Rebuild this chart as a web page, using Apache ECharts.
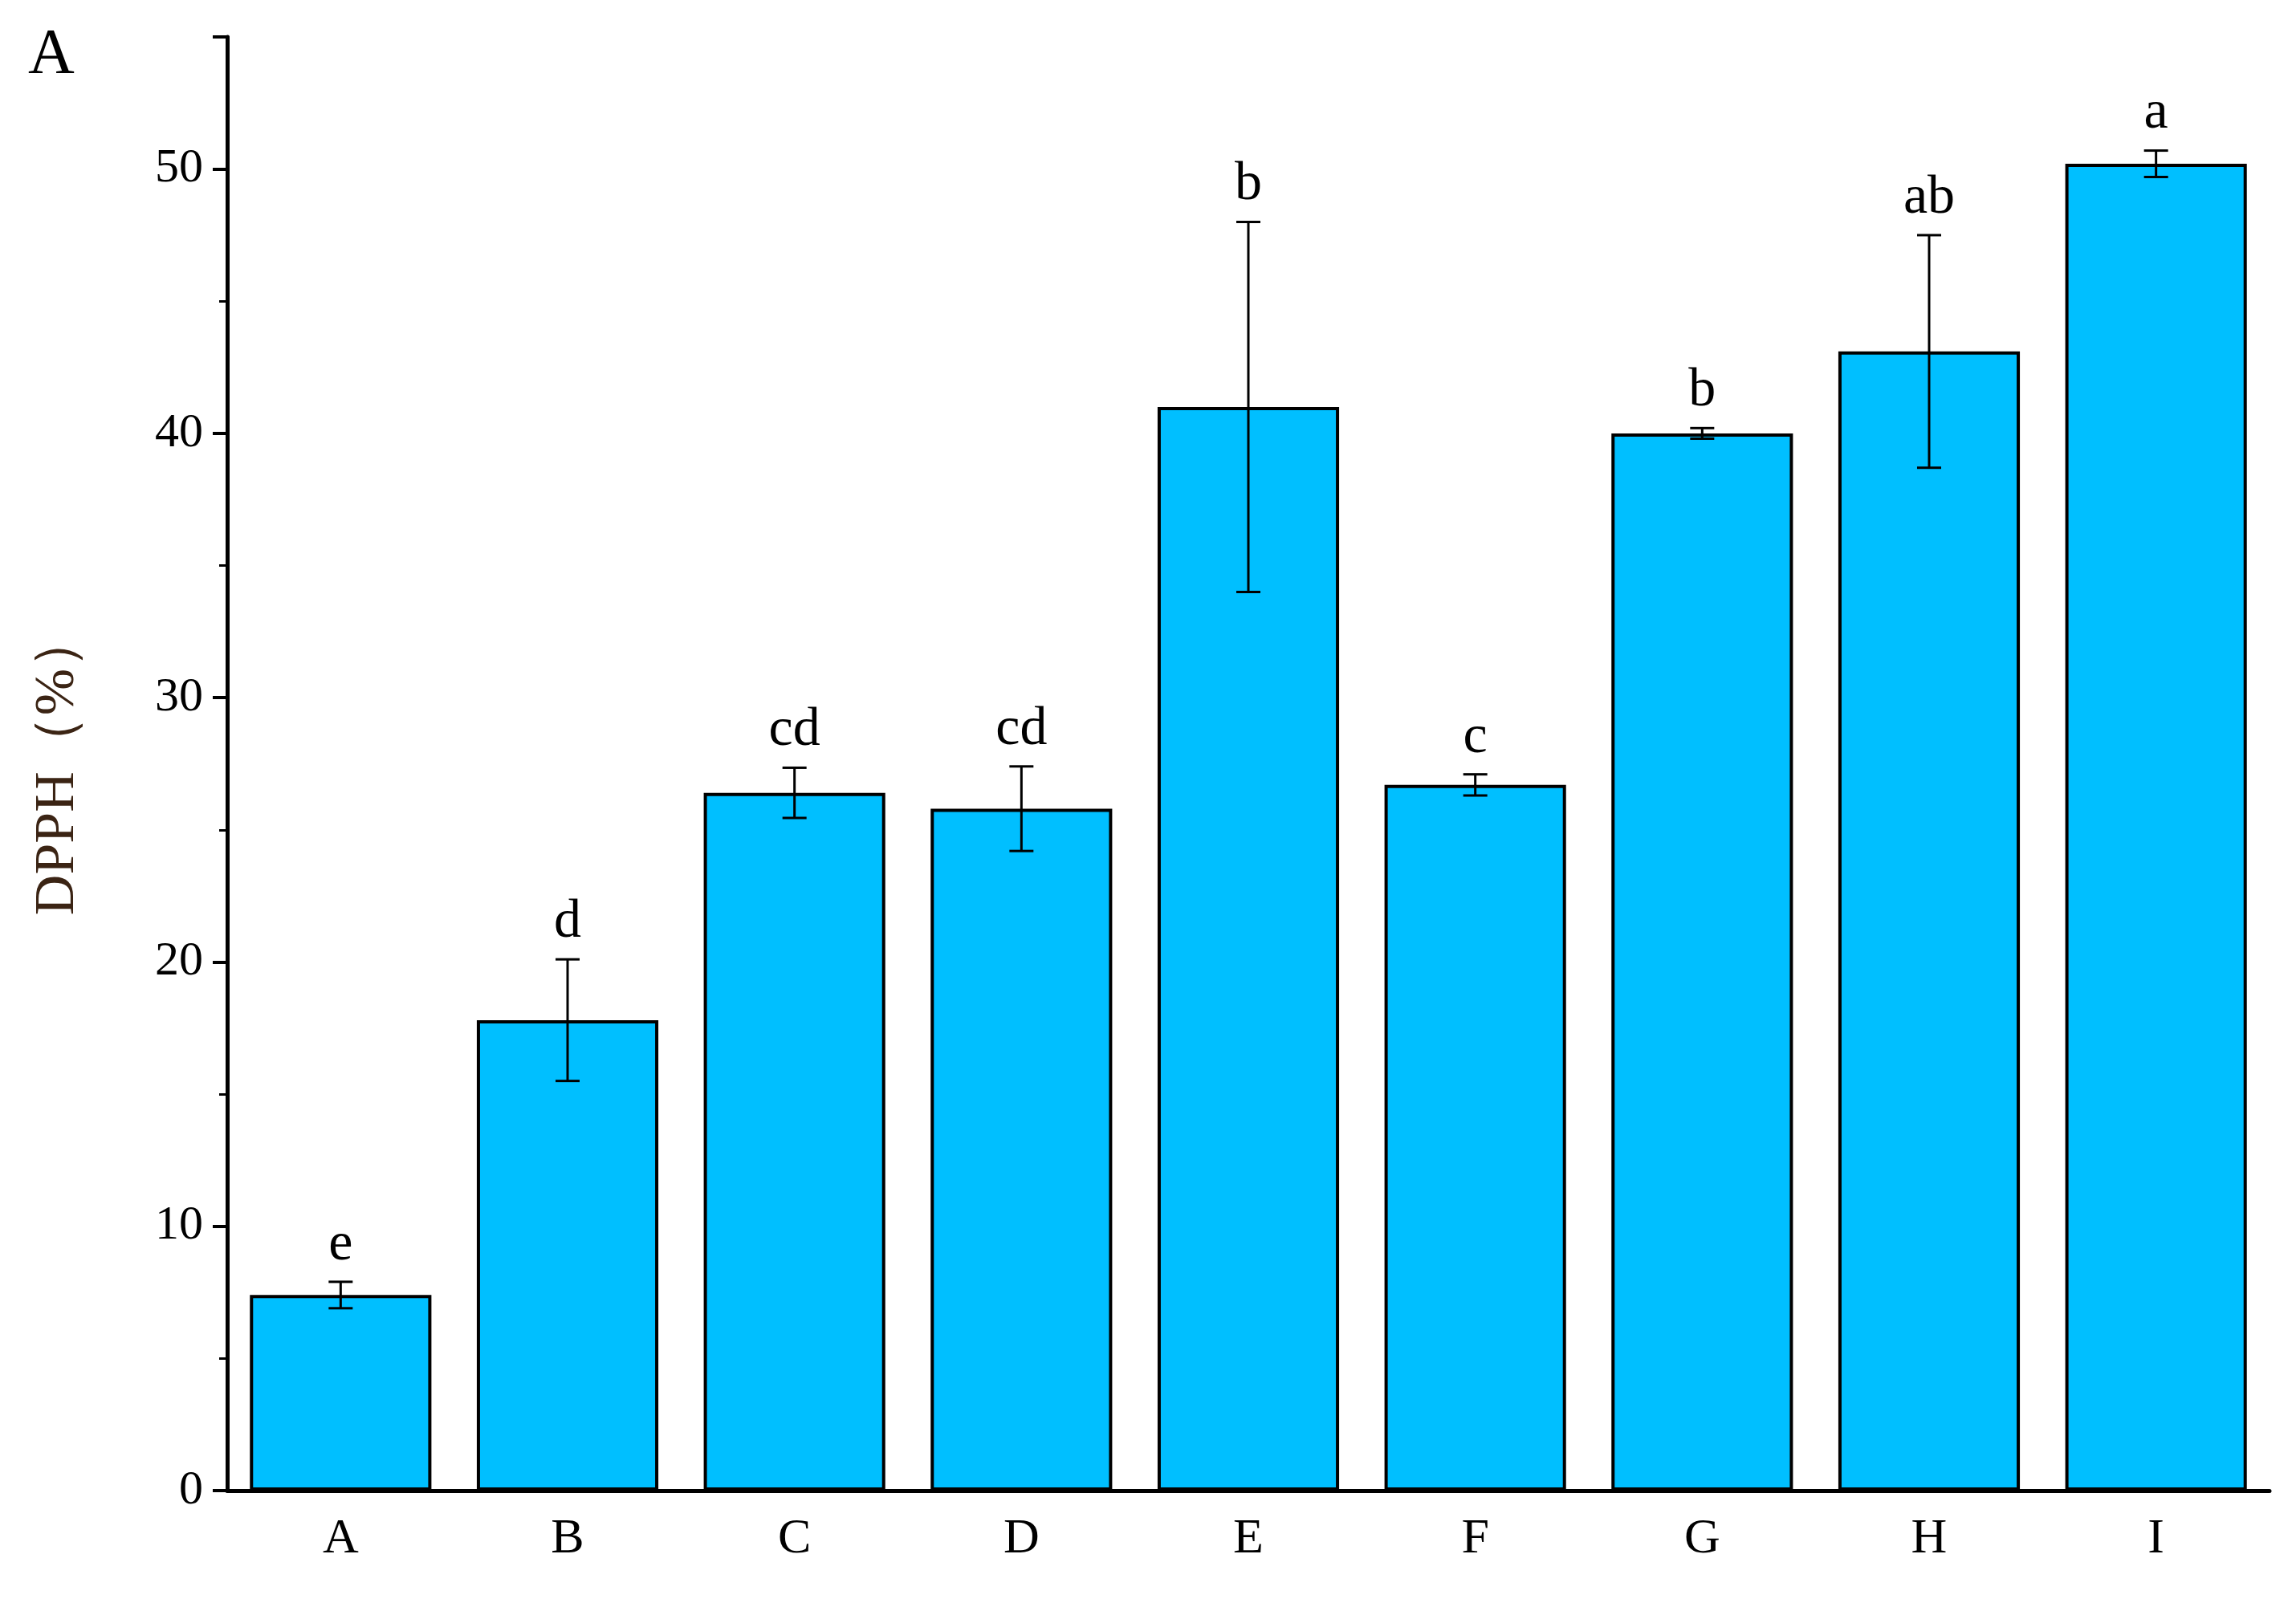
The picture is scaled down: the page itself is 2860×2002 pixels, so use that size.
<!DOCTYPE html>
<html><head><meta charset="utf-8">
<script src="https://cdn.jsdelivr.net/npm/echarts@6/dist/echarts.min.js"></script>
<style>html,body{margin:0;background:#fff}#c{width:2860px;height:2002px}</style>
</head><body><div id="c"></div>
<script>
var categories = ['A','B','C','D','E','F','G','H','I'];
var means = [7.4, 17.8, 26.4, 25.8, 41.0, 26.7, 40.0, 43.1, 50.2];
var errs = [0.5, 2.3, 0.95, 1.6, 7.0, 0.4, 0.2, 4.4, 0.5];
var letters = ['e','d','cd','cd','b','c','b','ab','a'];

var font = 'Liberation Serif';
var chart = echarts.init(document.getElementById('c'));
var errData = means.map(function (m, i) { return [i, m - errs[i], m + errs[i], letters[i]]; });

chart.setOption({
  animation: false,
  grid: {left: 283, right: 33, top: 46, bottom: 145},
  graphic: [{type: 'text', left: 35, top: 30, style: {text: 'A', font: '80px ' + font, fill: '#000'}}],
  xAxis: {
    type: 'category', data: categories,
    axisLine: {lineStyle: {color: '#000', width: 5}},
    axisTick: {show: false},
    axisLabel: {fontFamily: font, fontSize: 62, color: '#000', margin: 30}
  },
  yAxis: {
    type: 'value', min: 0, max: 55, interval: 10,
    name: 'DPPH（%）', nameLocation: 'middle', nameGap: 175,
    nameTextStyle: {fontFamily: font, fontSize: 70, color: '#3b2414'},
    axisLine: {show: true, lineStyle: {color: '#000', width: 5}},
    axisTick: {show: true, length: 18, lineStyle: {width: 4}},
    minorTick: {show: true, splitNumber: 2, length: 10, lineStyle: {color: '#000', width: 3}},
    splitLine: {show: false},
    axisLabel: {fontFamily: font, fontSize: 60, color: '#000', margin: 30,
      formatter: function (v) { return v % 10 === 0 ? v : ''; }}
  },
  series: [{
    type: 'bar', data: means, barWidth: '80%',
    itemStyle: {color: '#00BFFF', borderColor: '#000', borderWidth: 4}
  }, {
    type: 'custom', data: errData, z: 10,
    renderItem: function (params, api) {
      var x = api.value(0);
      var lo = api.coord([x, api.value(1)]);
      var hi = api.coord([x, api.value(2)]);
      var cap = 15;
      var st = {stroke: '#000', lineWidth: 3};
      return {type: 'group', children: [
        {type: 'line', shape: {x1: lo[0], y1: lo[1], x2: hi[0], y2: hi[1]}, style: st},
        {type: 'line', shape: {x1: lo[0]-cap, y1: lo[1], x2: lo[0]+cap, y2: lo[1]}, style: st},
        {type: 'line', shape: {x1: hi[0]-cap, y1: hi[1], x2: hi[0]+cap, y2: hi[1]}, style: st},
        {type: 'text', style: {text: api.value(3), x: hi[0], y: hi[1] - 12,
          textAlign: 'center', textVerticalAlign: 'bottom', font: '68px ' + font, fill: '#000'}}
      ]};
    }
  }]
});
</script></body></html>
